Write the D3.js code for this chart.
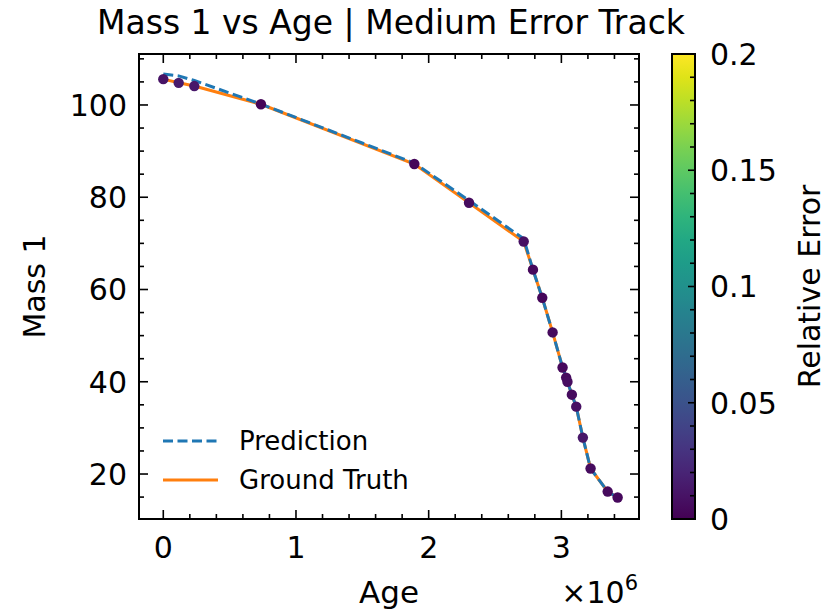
<!DOCTYPE html>
<html><head><meta charset="utf-8">
<script src="https://cdn.jsdelivr.net/npm/d3@7"></script>
<style>body{margin:0;background:#fff}svg{display:block}text{font-family:"DejaVu Sans",sans-serif;fill:#000}</style>
</head><body><svg id="c" width="833" height="614"></svg>
<script>
const age = [0, 0.116e6, 0.234e6, 0.736e6, 1.892e6, 2.304e6, 2.716e6, 2.786e6, 2.856e6, 2.934e6, 3.009e6, 3.036e6, 3.046e6, 3.079e6, 3.112e6, 3.162e6, 3.220e6, 3.349e6, 3.424e6];
const truth = [105.6, 104.8, 104.1, 100.15, 87.2, 78.8, 70.4, 64.3, 58.2, 50.7, 43.1, 40.9, 40.0, 37.2, 34.6, 27.9, 21.2, 16.2, 14.9];
const prediction = [106.7, 106.3, 105.3, 100.2, 87.4, 79.3, 71.0, 64.3, 58.2, 50.7, 43.1, 40.9, 40.0, 37.2, 34.6, 27.9, 21.2, 16.2, 14.9];
const relError = [0.010, 0.014, 0.012, 0.002, 0.003, 0.006, 0.008, 0.004, 0.003, 0.005, 0.004, 0.006, 0.007, 0.006, 0.008, 0.012, 0.006, 0.005, 0.004];
const xTicks = [0, 1e6, 2e6, 3e6];
const xTickLabels = ["0", "1", "2", "3"];
const yTicks = [20, 40, 60, 80, 100];
const cbTicks = [0, 0.05, 0.1, 0.15, 0.2];
const cbTickLabels = ["0", "0.05", "0.1", "0.15", "0.2"];

const svg = d3.select("#c");
const L = 139, R = 639, T = 54, B = 519;
const x = d3.scaleLinear().domain([-0.183e6, 3.585e6]).range([L, R]);
const y = d3.scaleLinear().domain([10.25, 111.05]).range([B, T]);
const cmap = d3.scaleSequential(d3.interpolateViridis).domain([0, 0.2]);

const pts = age.map((a, i) => ({a, t: truth[i], p: prediction[i], e: relError[i]}));

// lines
const g = svg.append("g");
g.append("path").datum(pts)
  .attr("d", d3.line().x(d => x(d.a)).y(d => y(d.t)))
  .attr("fill", "none").attr("stroke", "#ff7f0e").attr("stroke-width", 3);
g.append("path").datum(pts)
  .attr("d", d3.line().x(d => x(d.a)).y(d => y(d.p)))
  .attr("fill", "none").attr("stroke", "#1f77b4").attr("stroke-width", 3)
  .attr("stroke-dasharray", "10,4.5");
g.selectAll("circle").data(pts).enter().append("circle")
  .attr("cx", d => x(d.a)).attr("cy", d => y(d.t)).attr("r", 5.2)
  .attr("fill", d => cmap(d.e));

// axes ticks (inward, all sides)
const ax = svg.append("g").attr("stroke", "#000").attr("stroke-width", 1.6);
const xMinor = d3.range(0, 3.6e6, 0.2e6).filter(v => v % 1e6 !== 0 && x(v) < R);
const yMinor = d3.range(15, 111, 5).filter(v => v % 20 !== 0);
xTicks.forEach(v => {
  ax.append("line").attr("x1", x(v)).attr("x2", x(v)).attr("y1", B).attr("y2", B - 9);
  ax.append("line").attr("x1", x(v)).attr("x2", x(v)).attr("y1", T).attr("y2", T + 9);
});
xMinor.forEach(v => {
  ax.append("line").attr("x1", x(v)).attr("x2", x(v)).attr("y1", B).attr("y2", B - 5);
  ax.append("line").attr("x1", x(v)).attr("x2", x(v)).attr("y1", T).attr("y2", T + 5);
});
yTicks.forEach(v => {
  ax.append("line").attr("x1", L).attr("x2", L + 9).attr("y1", y(v)).attr("y2", y(v));
  ax.append("line").attr("x1", R).attr("x2", R - 9).attr("y1", y(v)).attr("y2", y(v));
});
yMinor.forEach(v => {
  ax.append("line").attr("x1", L).attr("x2", L + 5).attr("y1", y(v)).attr("y2", y(v));
  ax.append("line").attr("x1", R).attr("x2", R - 5).attr("y1", y(v)).attr("y2", y(v));
});
svg.append("rect").attr("x", L).attr("y", T).attr("width", R - L).attr("height", B - T)
  .attr("fill", "none").attr("stroke", "#000").attr("stroke-width", 2);

// tick labels
xTicks.forEach((v, i) => svg.append("text").attr("x", x(v)).attr("y", 558)
  .attr("text-anchor", "middle").attr("font-size", 30).text(xTickLabels[i]));
yTicks.forEach(v => svg.append("text").attr("x", L - 12).attr("y", y(v)).attr("dy", "0.36em")
  .attr("text-anchor", "end").attr("font-size", 30).text(v));

// axis labels
svg.append("text").attr("x", (L + R) / 2).attr("y", 603).attr("text-anchor", "middle")
  .attr("font-size", 31).text("Age");
svg.append("text").attr("transform", `translate(45,${(T + B) / 2}) rotate(-90)`)
  .attr("text-anchor", "middle").attr("font-size", 30).text("Mass 1");
const mult = svg.append("text").attr("x", 638).attr("y", 603).attr("text-anchor", "end").attr("font-size", 30);
mult.append("tspan").text("×10");
mult.append("tspan").attr("font-size", 21).attr("dy", -13).text("6");

// title
svg.append("text").attr("x", 97).attr("y", 34).attr("text-anchor", "start")
  .attr("font-size", 33).text("Mass 1 vs Age | Medium Error Track");

// legend
const lg = svg.append("g");
lg.append("line").attr("x1", 163).attr("x2", 218).attr("y1", 441).attr("y2", 441)
  .attr("stroke", "#1f77b4").attr("stroke-width", 3).attr("stroke-dasharray", "10,4.5");
lg.append("line").attr("x1", 163).attr("x2", 218).attr("y1", 480).attr("y2", 480)
  .attr("stroke", "#ff7f0e").attr("stroke-width", 3);
lg.append("text").attr("x", 239).attr("y", 441).attr("dy", "0.35em").attr("font-size", 26).text("Prediction");
lg.append("text").attr("x", 239).attr("y", 480).attr("dy", "0.35em").attr("font-size", 26).text("Ground Truth");

// colorbar
const CL = 672, CR = 695, CT = 54, CB = 519;
const cy = d3.scaleLinear().domain([0, 0.2]).range([CB, CT]);
const defs = svg.append("defs");
const grad = defs.append("linearGradient").attr("id", "vir").attr("x1", 0).attr("y1", 1).attr("x2", 0).attr("y2", 0);
d3.range(0, 1.0001, 0.05).forEach(t => grad.append("stop").attr("offset", t).attr("stop-color", d3.interpolateViridis(t)));
svg.append("rect").attr("x", CL).attr("y", CT).attr("width", CR - CL).attr("height", CB - CT).attr("fill", "url(#vir)");
const cbg = svg.append("g").attr("stroke", "#000").attr("stroke-width", 1.6);
d3.range(0.01, 0.2, 0.01).forEach(v => {
  const major = Math.abs(v / 0.05 - Math.round(v / 0.05)) < 1e-6;
  cbg.append("line").attr("x1", CR).attr("x2", CR - (major ? 7 : 5)).attr("y1", cy(v)).attr("y2", cy(v));
});
svg.append("rect").attr("x", CL).attr("y", CT).attr("width", CR - CL).attr("height", CB - CT)
  .attr("fill", "none").attr("stroke", "#000").attr("stroke-width", 2);
cbTicks.forEach((v, i) => svg.append("text").attr("x", 710).attr("y", cy(v)).attr("dy", "0.36em")
  .attr("font-size", 30).text(cbTickLabels[i]));
svg.append("text").attr("transform", `translate(820,${(CT + CB) / 2}) rotate(-90)`)
  .attr("text-anchor", "middle").attr("font-size", 30).text("Relative Error");
</script></body></html>
